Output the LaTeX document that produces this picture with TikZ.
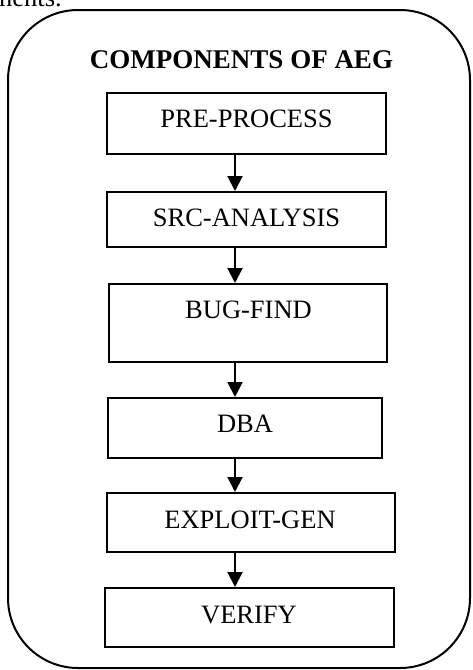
\documentclass[tikz,border=0pt]{standalone}
\usepackage{fontspec}
\setmainfont{Liberation Serif}
\usetikzlibrary{arrows.meta}
\begin{document}
\begin{tikzpicture}[x=1pt,y=-1pt,
  stepbox/.style={draw,line width=2pt,rectangle,inner sep=0pt},
  lbl/.style={anchor=base,inner sep=0pt,font=\fontsize{26.5}{30}\selectfont},
  flow/.style={line width=2pt,-{Triangle[length=15pt,width=15pt]}}]
\useasboundingbox (0,0) rectangle (472,670);
\begin{scope}
\clip (0,0) rectangle (472,670);
\node[anchor=base west,inner sep=0pt,font=\fontsize{26.5}{30}\selectfont] (frag) at (-1,6) {nents.};
\end{scope}
\node[draw,line width=2pt,rounded corners=70pt,minimum width=462pt,minimum height=658pt,inner sep=0pt] (outer) at (239,339) {};
\node[lbl,font=\fontsize{27}{30}\selectfont\bfseries] (title) at (241.5,68) {COMPONENTS OF AEG};
\node[stepbox,minimum width=279pt,minimum height=61pt] (b1) at (246.5,123.5) {};
\node[stepbox,minimum width=279pt,minimum height=55pt] (b2) at (246.5,219.5) {};
\node[stepbox,minimum width=278pt,minimum height=78pt] (b3) at (248,323) {};
\node[stepbox,minimum width=274pt,minimum height=60pt] (b4) at (245,428) {};
\node[stepbox,minimum width=288pt,minimum height=59pt] (b5) at (251,522.5) {};
\node[stepbox,minimum width=289pt,minimum height=59pt] (b6) at (249.5,617.5) {};
\node[lbl] (t1) at (246.5,127) {PRE-PROCESS};
\node[lbl] (t2) at (246.5,226) {SRC-ANALYSIS};
\node[lbl] (t3) at (248.5,318) {BUG-FIND};
\node[lbl] (t4) at (245,432) {DBA};
\node[lbl] (t5) at (250,528) {EXPLOIT-GEN};
\node[lbl] (t6) at (249,623) {VERIFY};
\coordinate (ax) at (235,0);
\draw[flow] (b1.south -| ax) -- (b2.north -| ax);
\draw[flow] (b2.south -| ax) -- (b3.north -| ax);
\draw[flow] (b3.south -| ax) -- (b4.north -| ax);
\draw[flow] (b4.south -| ax) -- (b5.north -| ax);
\draw[flow] (b5.south -| ax) -- (b6.north -| ax);
\end{tikzpicture}
\end{document}
